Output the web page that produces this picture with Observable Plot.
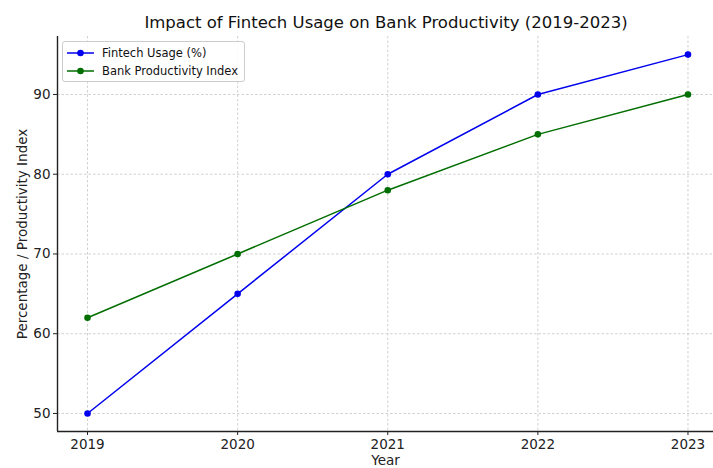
<!DOCTYPE html>
<html><head><meta charset="utf-8">
<script src="https://cdn.jsdelivr.net/npm/d3@7"></script>
<script src="https://cdn.jsdelivr.net/npm/@observablehq/plot@0.6"></script>
<style>
body{margin:0;background:#fff;font-family:"DejaVu Sans",sans-serif;}
#wrap{position:relative;width:713px;height:468px;}
#title{height:36px;box-sizing:border-box;padding-left:59px;text-align:center;font-size:16.5px;line-height:17px;padding-top:14px;color:#111;}
#legend{position:absolute;left:62px;top:41px;width:183px;height:41px;box-sizing:border-box;border:1px solid #ccc;border-radius:3px;background:rgba(255,255,255,0.85);font-size:11.5px;color:#111;}
.row{position:absolute;left:3px;height:14px;display:flex;align-items:center;}
.row svg{margin-right:7px;}
#chart svg text{font-size:13.5px;}
#chart svg text.ylab{font-size:14.5px;}
</style></head>
<body>
<div id="wrap">
<div id="title">Impact of Fintech Usage on Bank Productivity (2019-2023)</div>
<div id="chart"></div>
<div id="legend"></div>
</div>
<script>
const years = [2019, 2020, 2021, 2022, 2023];
const fintechUsage = [50, 65, 80, 90, 95];
const bankProductivity = [62, 70, 78, 85, 90];
const seriesNames = ["Fintech Usage (%)", "Bank Productivity Index"];
const seriesColors = ["#0000ee", "#006e00"];
const yTicks = [50, 60, 70, 80, 90];
const yLabel = "Percentage / Productivity Index";

const data = [];
years.forEach((y, i) => {
  data.push({year: y, value: fintechUsage[i], series: seriesNames[0]});
  data.push({year: y, value: bankProductivity[i], series: seriesNames[1]});
});

const xDomain = [2018.8, 2023.17];
const yDomain = [47.74, 97.27];

const chart = Plot.plot({
  width: 713,
  height: 432,
  marginTop: 0,
  marginLeft: 57,
  marginRight: 0,
  marginBottom: 37,
  style: {fontFamily: "DejaVu Sans, sans-serif", fontSize: "13.5px", color: "#222", background: "white"},
  x: {domain: xDomain, ticks: years, tickFormat: d => String(d)},
  y: {domain: yDomain, ticks: yTicks},
  marks: [
    Plot.gridX(years, {stroke: "#bdbdbd", strokeOpacity: 1, strokeDasharray: "2.5,2", strokeWidth: 0.7}),
    Plot.gridY(yTicks, {stroke: "#bdbdbd", strokeOpacity: 1, strokeDasharray: "2.5,2", strokeWidth: 0.7}),
    Plot.axisX(years, {tickSize: 4, tickPadding: 4, label: "Year", labelAnchor: "center", labelArrow: "none", labelOffset: 33, tickFormat: d => String(d)}),
    Plot.axisY(yTicks, {tickSize: 4, tickPadding: 3, label: null}),
    Plot.text([yLabel], {frameAnchor: "left", textAnchor: "middle", rotate: -90, dx: -35, text: d => d, className: "ylab", fill: "#222"}),
    Plot.ruleX([xDomain[0]], {stroke: "#222", strokeWidth: 1.4}),
    Plot.ruleY([yDomain[0]], {stroke: "#222", strokeWidth: 1.4}),
    Plot.line(data, {x: "year", y: "value", z: "series", stroke: d => d.series === seriesNames[0] ? seriesColors[0] : seriesColors[1], strokeWidth: 1.5}),
    Plot.dot(data, {x: "year", y: "value", fill: d => d.series === seriesNames[0] ? seriesColors[0] : seriesColors[1], r: 3.3})
  ]
});
document.getElementById("chart").appendChild(chart);

const legend = document.getElementById("legend");
seriesNames.forEach((name, i) => {
  const row = document.createElement("div");
  row.className = "row";
  row.style.top = (4 + i * 18) + "px";
  row.innerHTML = `<svg width="29" height="10"><line x1="1" y1="5" x2="28" y2="5" stroke="${seriesColors[i]}" stroke-width="1.5"/><circle cx="14.5" cy="5" r="3.3" fill="${seriesColors[i]}"/></svg><span>${name}</span>`;
  legend.appendChild(row);
});
</script>
</body></html>
